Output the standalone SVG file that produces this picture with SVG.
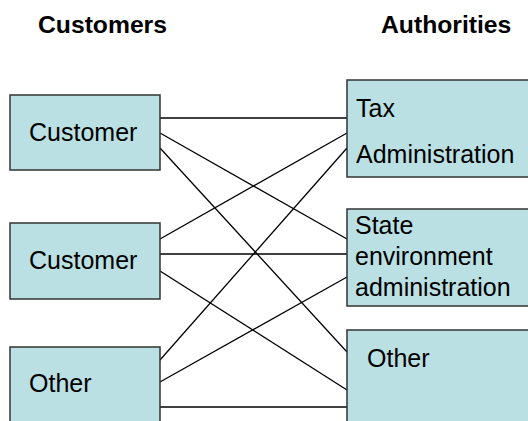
<svg xmlns="http://www.w3.org/2000/svg" width="528" height="421" viewBox="0 0 528 421">
<style>
.box{fill:#bbe0e3;stroke:#333333;stroke-width:1.5}
.t{font-family:"Liberation Sans",Arial,sans-serif;font-size:25px;fill:#000}
.h{font-family:"Liberation Sans",Arial,sans-serif;font-size:24.7px;font-weight:bold;fill:#000}
.c{stroke:#000;stroke-width:1.3;fill:none}
</style>
<rect width="528" height="421" fill="#fff"/>
<text class="h" x="38" y="33">Customers</text>
<text class="h" x="381" y="33">Authorities</text>
<g id="connectors">
<line class="c" x1="160" y1="118" x2="347" y2="118"/>
<line class="c" x1="160" y1="133" x2="347" y2="239"/>
<line class="c" x1="160" y1="148" x2="347" y2="352"/>
<line class="c" x1="160" y1="239" x2="347" y2="133"/>
<line class="c" x1="160" y1="254" x2="347" y2="254"/>
<line class="c" x1="160" y1="271" x2="347" y2="390"/>
<line class="c" x1="160" y1="360" x2="347" y2="148"/>
<line class="c" x1="160" y1="382" x2="347" y2="277"/>
<line class="c" x1="160" y1="407" x2="347" y2="407"/>
</g>
<g id="customer1">
<rect class="box" x="10" y="95" width="150" height="75"/>
<text class="t" x="29" y="141">Customer</text>
</g>
<g id="customer2">
<rect class="box" x="10" y="223" width="150" height="76"/>
<text class="t" x="29" y="269">Customer</text>
</g>
<g id="other-customer">
<rect class="box" x="10" y="347" width="150" height="90"/>
<text class="t" x="29" y="392">Other</text>
</g>
<g id="tax">
<rect class="box" x="347" y="80" width="190" height="97"/>
<text class="t" x="356" y="117">Tax</text>
<text class="t" x="356" y="163">Administration</text>
</g>
<g id="state">
<rect class="box" x="347" y="209" width="190" height="97"/>
<text class="t" x="355" y="234">State</text>
<text class="t" x="355" y="265">environment</text>
<text class="t" x="355" y="296">administration</text>
</g>
<g id="other-authority">
<rect class="box" x="347" y="330" width="190" height="100"/>
<text class="t" x="367" y="367">Other</text>
</g>
</svg>
